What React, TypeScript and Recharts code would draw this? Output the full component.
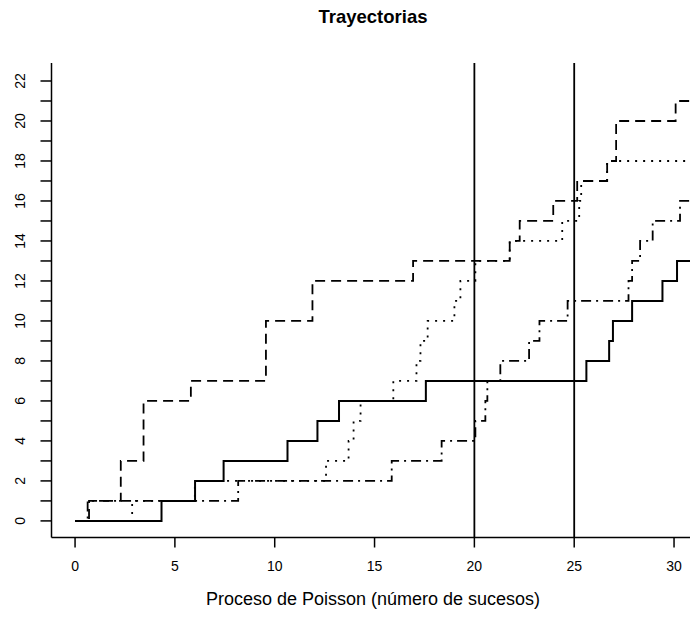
import React from "react";
import { LineChart, Line, XAxis, YAxis, ReferenceLine } from "recharts";

const solidT = [0, 4.33, 6.01, 7.44, 10.64, 12.14, 13.22, 17.57, 25.61, 26.75, 26.94, 27.9, 29.42, 30.15, 31.2];
const solidN = [0, 1, 2, 3, 4, 5, 6, 7, 8, 9, 10, 11, 12, 13, 13];

const dashedT = [0, 0.7, 2.29, 3.43, 5.8, 9.56, 11.89, 16.93, 21.77, 22.27, 23.95, 25.15, 26.65, 27.1, 30.08, 31.2];
const dashedN = [0, 1, 3, 6, 7, 10, 12, 13, 14, 15, 16, 17, 18, 20, 21, 21];

const dottedT = [0, 2.86, 6.0, 12.57, 13.7, 13.95, 14.3, 15.94, 17.1, 17.3, 17.66, 19.0, 19.3, 20.05, 21.77, 24.4, 25.25, 25.35, 26.65, 31.2];
const dottedN = [0, 1, 2, 3, 4, 5, 6, 7, 8, 9, 10, 11, 12, 13, 14, 15, 16, 17, 18, 18];

const dashDotT = [0, 0.63, 8.17, 15.86, 18.36, 20.05, 20.55, 20.65, 21.3, 22.74, 23.26, 24.67, 27.72, 27.9, 28.3, 28.93, 30.3, 31.2];
const dashDotN = [0, 1, 2, 3, 4, 5, 6, 7, 8, 9, 10, 11, 12, 13, 14, 15, 16, 16];

const xTicks = [0, 5, 10, 15, 20, 25, 30];
const yTicks = [0, 1, 2, 3, 4, 5, 6, 7, 8, 9, 10, 11, 12, 13, 14, 15, 16, 17, 18, 19, 20, 21, 22];
const markTimes = [20, 25];

const title = "Trayectorias";
const xTitle = "Proceso de Poisson (número de sucesos)";

const FONT = "'Liberation Sans', Arial, sans-serif";

const toPoints = (t: number[], n: number[]) => t.map((x, i) => ({ x, y: n[i] }));

const YTick = ({ y, payload }: any) => {
    if (payload.value % 2 !== 0) return <g />;
    return (
        <text x={20} y={y} transform={`rotate(-90 20 ${y})`} textAnchor="middle" dominantBaseline="central"
            fontSize={14} fontFamily={FONT} fill="#000">
            {payload.value}
        </text>
    );
};

export default function App() {
    const series = [
        { key: "solid", data: toPoints(solidT, solidN), dash: undefined, w: 2 },
        { key: "dashed", data: toPoints(dashedT, dashedN), dash: "10 6", w: 1.8 },
        { key: "dotted", data: toPoints(dottedT, dottedN), dash: "2 6", w: 1.8 },
        { key: "dashdot", data: toPoints(dashDotT, dashDotN), dash: "10 5 2 5", w: 1.8 },
    ];

    return (
        <div style={{ position: "absolute", left: 0, top: 0, width: 690, height: 618, overflow: "hidden", background: "#fff", fontFamily: FONT }}>
            <div style={{ position: "absolute", left: 173, width: 400, top: 6, textAlign: "center", fontSize: 18.5, fontWeight: "bold", color: "#000" }}>
                {title}
            </div>
            <LineChart width={720} height={618} margin={{ top: 63, right: 25, bottom: 50.5, left: 0 }}>
                <XAxis xAxisId="top" orientation="top" type="number" dataKey="x" domain={[-1.18, 31.05]} allowDataOverflow
                    height={0} tick={false} tickLine={false} axisLine={{ stroke: "#000", strokeWidth: 1.5 }} />
                <XAxis type="number" dataKey="x" domain={[-1.18, 31.05]} allowDataOverflow ticks={xTicks} interval={0}
                    height={30} tickSize={10} tickMargin={14}
                    tick={{ fontSize: 14, fontFamily: FONT, fill: "#000" }}
                    tickLine={{ stroke: "#000", strokeWidth: 1.5 }} axisLine={{ stroke: "#000", strokeWidth: 1.5 }} />
                <YAxis type="number" domain={[-0.83, 22.9]} allowDataOverflow ticks={yTicks} interval={0}
                    width={51.5} tickSize={11} tick={<YTick />}
                    tickLine={{ stroke: "#000", strokeWidth: 1.5 }} axisLine={{ stroke: "#000", strokeWidth: 1.5 }} />
                {markTimes.map((t) => (
                    <ReferenceLine key={t} x={t} stroke="#000" strokeWidth={1.8} />
                ))}
                {series.map((s) => (
                    <Line key={s.key} data={s.data} dataKey="y" type="stepAfter" stroke="#000" strokeWidth={s.w}
                        strokeDasharray={s.dash} dot={false} activeDot={false} isAnimationActive={false} />
                ))}
            </LineChart>
            <div style={{ position: "absolute", left: 123, width: 500, top: 589, textAlign: "center", fontSize: 18, color: "#000" }}>
                {xTitle}
            </div>
        </div>
    );
}
